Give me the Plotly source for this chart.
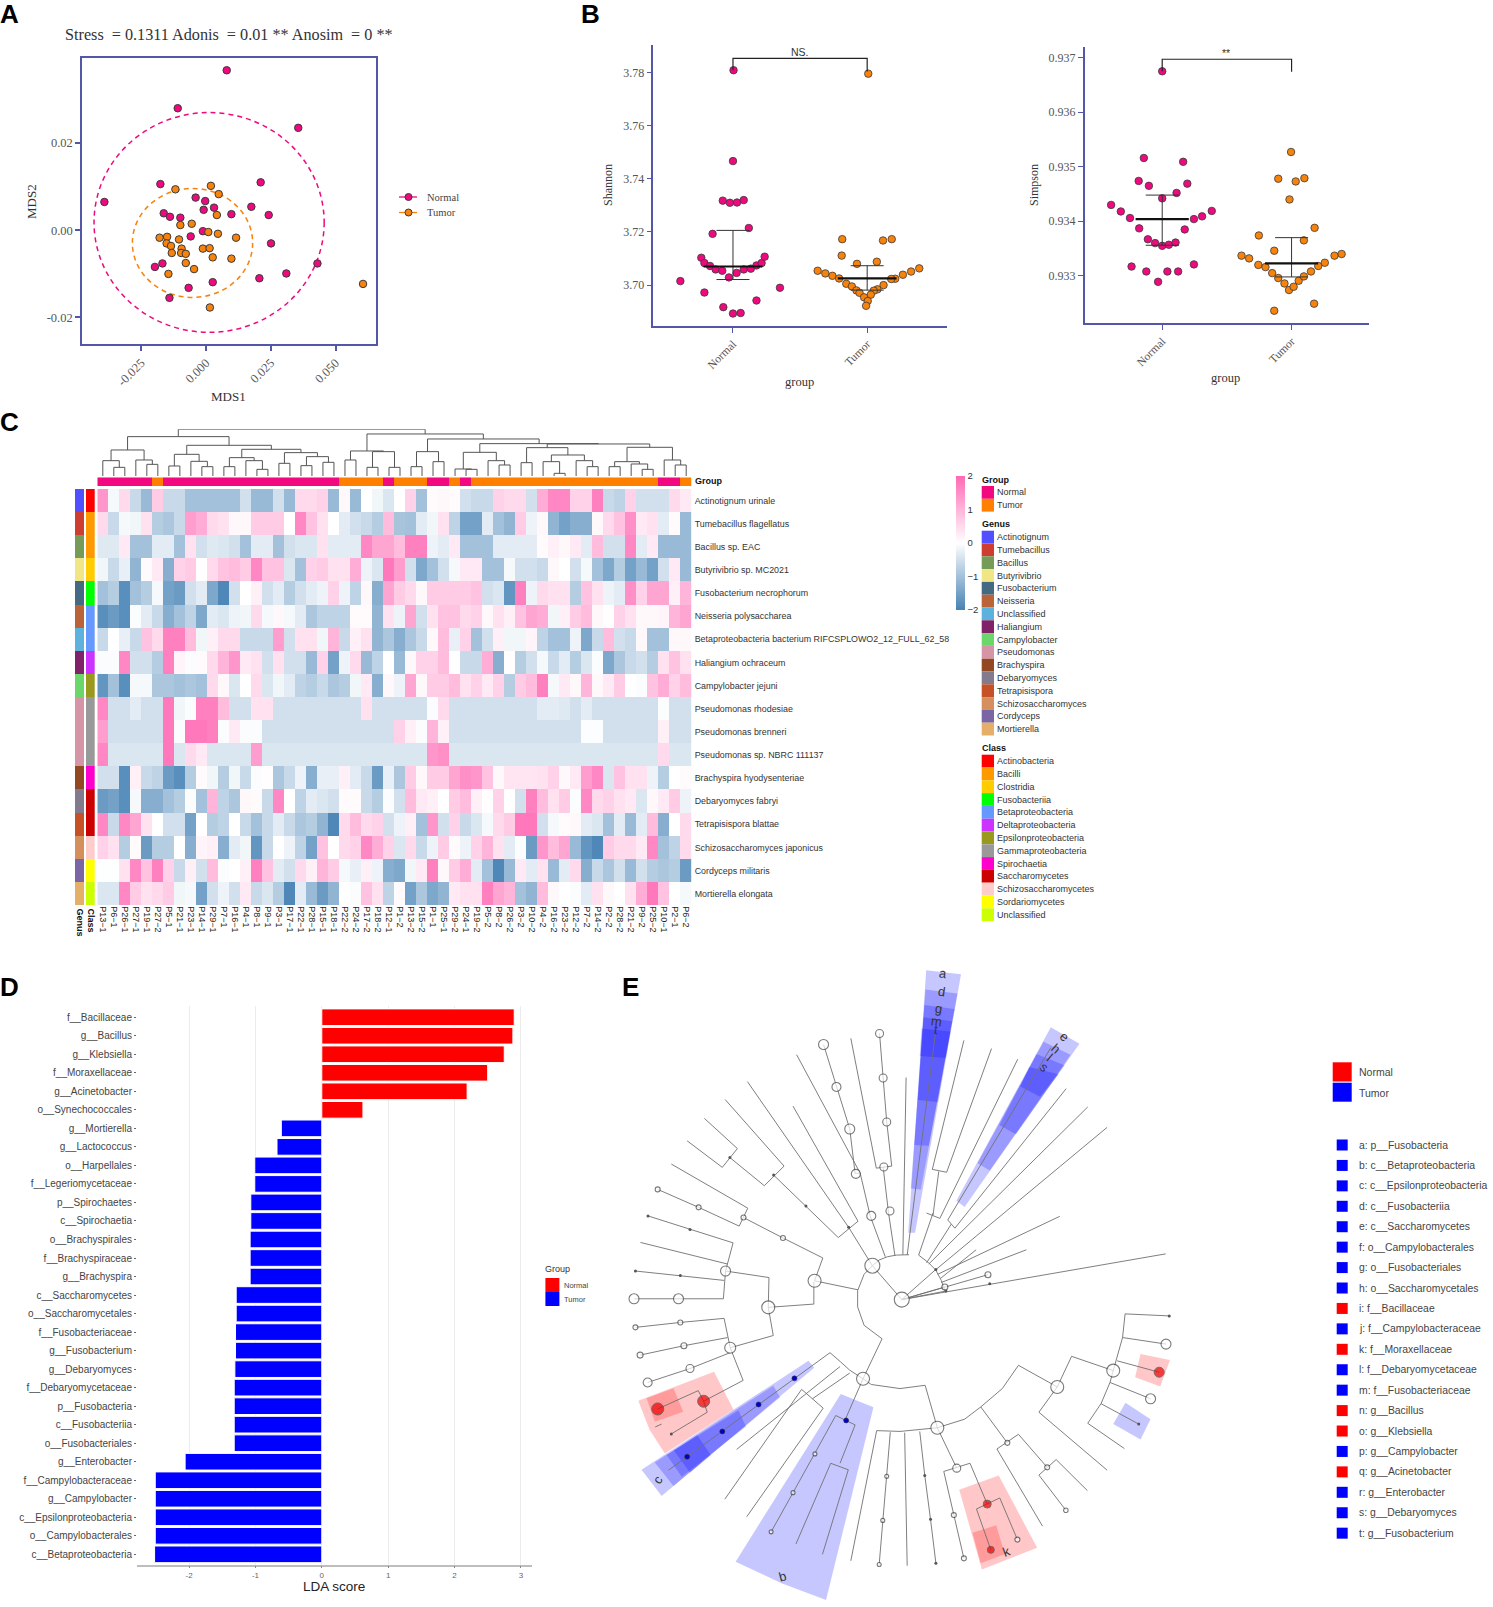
import plotly.graph_objects as go

W, H = 1493, 1607
SERIF = "Liberation Serif"
SANS = "Liberation Sans"
PINK = "#EE0A7E"
ORANGE = "#F7820C"
NAVY = "#5358A6"

# ---------- Panel A ----------
A_NORMAL_X = [0.0080,-0.0109,0.0356,0.0211,-0.0176,-0.0392,-0.0040,-0.0003,-0.0009,0.0031,0.0175,0.0098,0.0242,-0.0163,-0.0139,-0.0099,-0.0012,-0.0059,0.0251,0.0430,0.0310,0.0206,0.0026,-0.0067,-0.0141,-0.0197,-0.0168]
A_NORMAL_Y = [0.0367,0.0280,0.0235,0.0110,0.0106,0.0065,0.0075,0.0067,0.0047,0.0052,0.0054,0.0037,0.0035,0.0039,0.0031,0.0029,-0.0002,-0.0014,-0.0030,-0.0076,-0.0099,-0.0110,-0.0119,-0.0132,-0.0155,-0.0084,-0.0076]
A_TUMOR_X = [0.0019,-0.0118,0.0049,0.0042,-0.0055,-0.0099,0.0009,0.0046,0.0116,-0.0179,-0.0150,-0.0104,-0.0152,-0.0135,-0.0094,-0.0012,0.0014,-0.0132,-0.0096,-0.0078,0.0026,0.0098,-0.0078,-0.0046,-0.0145,0.0015,0.0606]
A_TUMOR_Y = [0.0102,0.0094,0.0083,0.0035,0.0015,0.0012,-0.0004,-0.0008,-0.0017,-0.0017,-0.0015,-0.0021,-0.0030,-0.0036,-0.0042,-0.0042,-0.0041,-0.0052,-0.0052,-0.0054,-0.0062,-0.0065,-0.0075,-0.0089,-0.0100,-0.0177,-0.0123]
A_ELLIPSE_NORMAL = dict(cx=0.0012, cy=0.0018, rx=0.0444, ry=0.0252)
A_ELLIPSE_TUMOR = dict(cx=-0.0052, cy=-0.0029, rx=0.0232, ry=0.0125)

# ---------- Panel B ----------
SH_N_X = [0.004,0,-0.076,-0.023,0.03,0.08,0.118,-0.152,-0.236,-0.213,-0.171,-0.129,-0.08,0.027,0.08,0.133,0.175,0.213,0.236,-0.03,-0.392,0.35,-0.213,0.175,-0.072,0,0.057]
SH_N_Y = [3.7809,3.7467,3.7318,3.7310,3.7311,3.7320,3.7215,3.7193,3.7103,3.7083,3.7072,3.7059,3.7054,3.7046,3.7059,3.7062,3.7074,3.7083,3.7107,3.7029,3.7015,3.6990,3.6972,3.6942,3.6917,3.6893,3.6895]
SH_T_X = [0.008,-0.186,0.118,0.183,-0.19,-0.076,0.072,-0.369,-0.312,-0.259,-0.209,0.388,0.327,0.266,0.209,0.179,-0.156,-0.114,0.122,0.076,0.049,-0.08,-0.057,0.027,-0.023,0.004,-0.008]
SH_T_Y = [3.7796,3.7173,3.7168,3.7173,3.7111,3.7080,3.7088,3.7054,3.7044,3.7035,3.7025,3.7063,3.7051,3.7039,3.7024,3.7023,3.7005,3.6995,3.7000,3.6984,3.6979,3.6980,3.6971,3.6964,3.6954,3.6940,3.6922]
SH_MEAN, SH_UP, SH_LOW = [3.7070,3.7025], [3.7206,3.7073], [3.7021,3.6981]
SH_BRACKET_X = [0,0,1,1]
SH_BRACKET_Y = [3.7809,3.7854,3.7854,3.7804]

SI_N_X = [0,-0.142,0.162,-0.182,-0.103,0.194,0.111,0,-0.395,-0.32,-0.249,0.383,0.308,0.245,-0.178,0.174,-0.111,-0.055,0,0.051,0.103,-0.237,0.245,-0.123,0.04,0.123,-0.032]
SI_N_Y = [0.93675,0.93516,0.93509,0.93474,0.93465,0.93469,0.93452,0.93442,0.93430,0.93418,0.93406,0.93419,0.93409,0.93404,0.93387,0.93385,0.93367,0.93360,0.93355,0.93357,0.93361,0.93317,0.93321,0.93308,0.93308,0.93308,0.93289]
SI_T_X = [-0.004,-0.103,0.099,0.032,-0.016,0.178,-0.253,0.095,-0.134,-0.387,-0.328,-0.257,-0.202,-0.15,-0.103,-0.055,-0.02,0.016,0.055,0.095,0.15,0.206,0.257,0.332,0.387,0.174,-0.134]
SI_T_Y = [0.93527,0.93478,0.93479,0.93473,0.93440,0.93388,0.93374,0.93365,0.93346,0.93337,0.93332,0.93320,0.93316,0.93305,0.93296,0.93286,0.93274,0.93280,0.93291,0.93299,0.93308,0.93318,0.93324,0.93337,0.93340,0.93249,0.93236]
SI_MEAN, SI_UP, SI_LOW = [0.93404,0.93323], [0.93448,0.93370], [0.93356,0.93298]
SI_BRACKET_X = [0,0,1,1]
SI_BRACKET_Y = [0.93675,0.93697,0.93697,0.93674]

# ---------- Panel C ----------
SAMPLES = ["P13−1","P6−1","P26−1","P27−1","P19−1","P27−2","P5−1","P21−1","P23−1","P14−1","P29−1","P7−1","P16−1","P4−1","P8−1","P9−1","P3−1","P17−1","P22−1","P28−1","P15−1","P18−1","P22−2","P24−2","P17−2","P18−2","P12−1","P1−2","P13−2","P15−2","P1−1","P25−1","P29−2","P24−1","P19−2","P5−2","P8−2","P26−2","P3−2","P10−2","P4−2","P16−2","P23−2","P12−2","P7−2","P14−2","P2−2","P28−2","P21−2","P9−2","P25−2","P10−1","P2−1","P6−2"]
SPECIES = ["Actinotignum urinale","Tumebacillus flagellatus","Bacillus sp. EAC","Butyrivibrio sp. MC2021","Fusobacterium necrophorum","Neisseria polysaccharea","Betaproteobacteria bacterium RIFCSPLOWO2_12_FULL_62_58","Haliangium ochraceum","Campylobacter jejuni","Pseudomonas rhodesiae","Pseudomonas brenneri","Pseudomonas sp. NBRC 111137","Brachyspira hyodysenteriae","Debaryomyces fabryi","Tetrapisispora blattae","Schizosaccharomyces japonicus","Cordyceps militaris","Mortierella elongata"]
R01 = [1.4,-.1,.5,-.6,-1.1,.7,-.6,-.6,-1,-1, -1,-1,-1,-.5,-1.1,-1.1,-.5,-1.1,.5,.5, .6,-1.1,.1,-1.1,0,-.15,-.4,0,.6,-1, .05,.1,.05,-.5,-.6,-.6,.6,.5,.5,-.5, 1.1,1.6,1.6,.6,.6,1.7,-.6,-.7,.6,-.5, -.5,-.5,.5,.3]
R02 = [.5,-.6,-.1,-.15,.4,-.8,-.9,-.6,1.3,1.1, .5,.4,.1,.1,.7,.7,.7,0,1.6,.8, .4,0,-.3,-.5,-.6,-.8,.9,-.95,-1,-.3, -.15,.4,-.7,-1.5,-1.5,-.3,-1,-1.2,.7,-.2, .1,-1.2,-1.5,-1.3,-1.3,.1,.5,.8,1.5,.3, .4,-.3,.05,-1.1]
R03 = [-.35,-.35,.3,-1,-1,-.3,-.3,-1,.4,-.5, -.35,-.4,-.5,-1,-.3,-.3,-1,-.5,-.4,-.4, .4,-.3,-.3,-.3,1.6,1.2,1.2,.9,1.7,1.7, -.2,-.3,.3,-1,-1,-1,-.3,-.3,-.3,-.3, .05,.2,.1,.3,-.3,.9,-.5,-.5,1.6,-.3, .3,-1.1,-1.1,-1.1]
R04 = [-.15,-.6,-.25,-1.2,.05,.3,-1.3,.6,.7,0, .5,.8,.9,.7,1.6,.8,.8,-.4,-1,.6, .7,.4,.4,1.1,-.2,-.4,1.8,1.3,-.5,-1.4, -1,-.5,-.1,.3,.3,-1,-1,-.1,-.5,-.5, -.6,.1,0,-.5,-.1,-1,-1.4,-.8,-1.5,-1.1, -1.5,-.5,.3,-1.1]
R05 = [-1,-.8,-1.8,-1,-.8,-.1,-1.5,-1.6,-.5,-.3, -1.4,-1.9,-.5,0,.2,-.5,-.3,-.8,-.5,-.3, -.2,.6,-.2,-.7,.1,-1.3,1.2,.7,.5,.1, .7,.7,.7,.7,.8,-.5,-.4,-1.7,1.7,-.2, .5,.4,.4,-.8,.8,.4,-.2,-.3,1.5,.6, 1.2,1.2,.2,1]
R06 = [-1.8,-1.6,-1.8,-.05,-.3,-.6,-1.3,-1,-.7,-1.4, -.3,-.4,-.2,-.15,.5,-.1,.1,-.1,-.3,-.9, -.7,-.7,-.7,.05,.05,-1.2,.4,-.2,1.2,-.5, .4,.8,.8,.5,.6,.1,.4,.2,.8,1.2, 1.1,-.15,.2,.7,.9,.1,.02,.6,.4,.1, .1,.15,1,1.2]
R07 = [-.6,0,-.25,-.6,.8,.5,1.7,1.7,.9,-.15, .2,.5,.5,-.6,-.6,-.6,1.3,-.5,.4,.4, -.15,1,-.6,.2,.4,-1.2,-.9,-1.3,-.9,-.6, .1,.9,-.25,.6,-1,-.5,.2,-.15,-.15,.15, -.7,-1,-1,-.2,-1.4,-.6,.9,-.5,-.6,.1, -1,-1,.1,.1]
R08 = [-.05,-.05,1.6,-.5,-.5,-.8,1.7,.15,-.05,.05, .5,1,1.4,.3,.4,-.5,.4,-.5,-.5,-1.1, .6,-1.5,-.2,.5,-1.1,-.7,0,-1.1,.1,.6, .6,.9,.02,-.6,-.6,1.1,-1.3,.03,-.8,-.5, -.1,-.6,-.3,-.8,-.4,-.05,-1.4,-.9,-.6,-.5, -.8,.4,.8,.4]
R09 = [-1.7,-1,-1.8,-.1,-.1,-.9,-.9,-1,-.9,-1, .5,.1,-.4,0,.5,-.4,-.15,-.3,-.7,-.8, -.6,-.9,-.8,-.15,.3,-1.3,.1,-.2,1.2,.1, .7,.7,.9,.4,.6,.3,.6,-.8,.7,.9, 1.7,-.1,.3,.1,1,.1,.3,.7,0,-.05, .8,1.1,.6,.9]
R10 = [1.6,-.5,-.5,-.3,-.5,-.5,1.8,-.15,-.05,1.7, 1.7,.9,-.5,-.5,.4,.4,-.5,-.5,-.5,-.5, -.5,-.5,-.5,-.5,.4,-.5,-.5,-.5,-.5,-.5, -.05,.5,-.5,-.5,-.5,-.5,-.5,-.5,-.5,-.5, -.3,-.3,-.35,-.5,-.3,-.5,-.5,-.5,-.5,-.5, -.5,-.05,-.5,-.5]
R11 = [1.3,-.5,-.5,-.5,-.5,-.5,1.8,-.05,1.8,1.8, 1.7,-.05,.3,-.05,-.05,-.5,-.5,-.5,-.5,-.5, -.5,-.5,-.5,-.5,-.5,-.5,-.5,.6,.2,-.05, 1,.2,-.5,-.5,-.5,-.5,-.5,-.5,-.5,-.5, -.5,-.5,-.5,-.5,-.03,-.03,-.5,-.5,-.5,-.5, -.5,.2,-.5,-.5]
R12 = [1.6,-.4,-.4,-.4,-.4,-.4,1.8,-.4,.5,.3, -.4,-.4,-.4,-.4,1.3,-.4,-.4,-.4,-.4,-.4, -.4,-.4,-.4,-.4,-.4,-.4,-.4,-.4,-.4,-.4, 1.4,1.5,-.4,-.4,-.4,-.4,-.4,-.4,-.4,-.4, -.4,-.4,-.4,-.4,-.4,-.4,-.4,-.4,-.4,-.4, -.4,.5,-.4,-.4]
R13 = [-.5,-.5,-1.8,.2,-.6,-.7,-1.6,-1.8,-.8,.05, -.15,-.8,-.15,-.6,-.05,.03,-.9,-.6,-.2,-1.3, -.25,-.25,.2,-.3,-.6,-1.6,-.25,-.9,.7,.1, .7,.7,1.2,1.5,1.4,.8,.1,.35,.35,.35, .4,.6,.1,.3,1.3,1.6,-.4,.8,.4,.4, -.2,-.8,0,.05]
R14 = [-1.6,-1.5,-1.8,-.1,-1.3,-1.3,-1,-.8,-.05,-1, 1,-.7,-.9,.1,.05,-.6,1.6,0,-.7,-.3, -.4,-.5,.05,.05,-.6,-.8,-.05,-.5,.9,.3, .2,0,.7,.9,.2,.03,.6,0,-.5,1.7, .9,.4,.7,-.05,1.6,.5,.6,.4,.3,-.4, .1,.3,.7,-.2]
R15 = [1.6,-.6,1.6,1.2,.4,0,-.5,-.5,-1.5,0, -.8,-.7,0,-.6,-1,-.6,-.3,-.6,-.9,-.8, -1.2,-1.9,.5,.9,.5,.6,-.5,-.2,.2,-1, 1.4,-.5,.6,-.6,-.4,-.1,.5,.7,1.8,1.8, -.5,-.1,.05,.1,-.3,-.4,-1,-.3,-1.1,-.3, .9,-1.3,0,.5]
R16 = [.6,.4,-.8,.05,-1.6,-.8,-.8,0,-1.3,.15, .2,-1.3,-.3,-.15,-1.7,-.6,0,-.2,-.7,-1.5, .8,0,.5,.6,1.6,1.1,.6,-.4,.5,-.6, -.2,.7,.05,-.2,.6,1,.4,-.3,-.05,-1.6, 1.4,.9,1.2,-1.1,-1.7,-1.9,.7,.5,.5,.3, 1.6,-1,-.7,.5]
R17 = [-.02,-.02,.4,1.6,.8,1.7,.6,-.6,.2,-.5, .9,-.05,0,.2,1.7,.8,-.3,-.5,.5,.2, 1,.7,-.1,-.25,.2,-.2,-1.3,-1.4,-.15,.3, 1.7,.1,.7,1.1,-.3,-1,-1.9,-1.1,.3,-.3, .4,-1.1,-.3,.5,-1.3,-.6,-.9,-.5,-1.1,-.5, -.8,-.9,-.8,-1.6]
R18 = [-.4,-.4,1.6,.7,.4,.5,.7,-.15,-.1,-1.5, -.5,-.2,-.5,.3,-.6,-.4,-.8,-1.9,-.3,-1.1, -1.6,-1.2,0,-.05,.8,.4,-.7,.05,-1.5,-.9, -1.4,-1.2,.3,.4,.4,1.7,1.2,1,-1,-1.2, .9,.1,0,-.05,-.3,.4,.1,0,.4,1.1, 1.8,.8,0,-.1]
HEAT = [R01,R02,R03,R04,R05,R06,R07,R08,R09,R10,R11,R12,R13,R14,R15,R16,R17,R18]

GROUP_NAMES = ["Normal","Tumor"]
GROUP_COLORS = ["#F2097F","#FF7F00"]
SAMPLE_GROUP = [0,0,0,0,0,1]+[0]*16+[1,1,1,1,0,1,1,1,0,0,1,0]+[1]*17+[0,0,1]
GENUS_NAMES = ["Actinotignum","Tumebacillus","Bacillus","Butyrivibrio","Fusobacterium","Neisseria","Unclassified","Haliangium","Campylobacter","Pseudomonas","Brachyspira","Debaryomyces","Tetrapisispora","Schizosaccharomyces","Cordyceps","Mortierella"]
GENUS_COLORS = ["#5050FF","#CE3D32","#749B58","#F0E685","#466983","#BA6338","#5DB1DD","#802268","#6BD76B","#D595A7","#924822","#837B8D","#C75127","#D58F5C","#7A65A5","#E4AF69"]
ROW_GENUS = [0,1,2,3,4,5,6,7,8,9,9,9,10,11,12,13,14,15]
CLASS_NAMES = ["Actinobacteria","Bacilli","Clostridia","Fusobacteriia","Betaproteobacteria","Deltaproteobacteria","Epsilonproteobacteria","Gammaproteobacteria","Spirochaetia","Saccharomycetes","Schizosaccharomycetes","Sordariomycetes","Unclassified"]
CLASS_COLORS = ["#FF0000","#FF9900","#FFCC00","#00FF00","#6699FF","#CC33FF","#99991E","#999999","#FF00CC","#CC0000","#FFCCCC","#FFFF00","#CCFF00"]
ROW_CLASS = [0,1,1,2,3,4,4,5,6,7,7,7,8,9,9,10,11,12]
DENDROGRAM = (140,
    (118,
        (78,(46,0,(26,1,2)),(48,3,(35,4,5))),
        (92,
            (65,(30,6,7),(44,8,(28,9,10))),
            (80,
                (55,(28,11,12),(46,13,(20,14,15))),
                (70,(38,16,17),(58,(31,18,19),(41,20,21)))))),
    (126,
        (75,(48,22,23),(73,(26,24,25),(26,26,27))),
        (111,
            (73,(28,28,29),(43,30,31)),
            (97,
                (71,(21,32,(20,33,34)),(46,35,(33,36,37))),
                (96,
                    (85,(40,38,39),(63,(43,40,(8,41,42)),(46,43,(28,44,45)))),
                    (86,(43,(28,46,47),(36,48,(20,49,50))),(48,51,(33,52,53))))))))

# ---------- Panel D ----------
D_TAXA = ["f__Bacillaceae","g__Bacillus","g__Klebsiella","f__Moraxellaceae","g__Acinetobacter","o__Synechococcales","g__Mortierella","g__Lactococcus","o__Harpellales","f__Legeriomycetaceae","p__Spirochaetes","c__Spirochaetia","o__Brachyspirales","f__Brachyspiraceae","g__Brachyspira","c__Saccharomycetes","o__Saccharomycetales","f__Fusobacteriaceae","g__Fusobacterium","g__Debaryomyces","f__Debaryomycetaceae","p__Fusobacteria","c__Fusobacteriia","o__Fusobacteriales","g__Enterobacter","f__Campylobacteraceae","g__Campylobacter","c__Epsilonproteobacteria","o__Campylobacterales","c__Betaproteobacteria"]
D_LDA = [2.90,2.88,2.75,2.50,2.19,0.62,-0.61,-0.675,-1.01,-1.01,-1.07,-1.07,-1.08,-1.08,-1.08,-1.29,-1.29,-1.30,-1.30,-1.31,-1.32,-1.32,-1.32,-1.32,-2.06,-2.51,-2.51,-2.51,-2.51,-2.52]

# ---------- Panel E ----------
E_LEGEND = [("a: p__Fusobacteria",1),("b: c__Betaproteobacteria",1),("c: c__Epsilonproteobacteria",1),("d: c__Fusobacteriia",1),("e: c__Saccharomycetes",1),("f: o__Campylobacterales",1),("g: o__Fusobacteriales",1),("h: o__Saccharomycetales",1),("i: f__Bacillaceae",0),("j: f__Campylobacteraceae",1),("k: f__Moraxellaceae",0),("l: f__Debaryomycetaceae",1),("m: f__Fusobacteriaceae",1),("n: g__Bacillus",0),("o: g__Klebsiella",0),("p: g__Campylobacter",1),("q: g__Acinetobacter",0),("r: g__Enterobacter",1),("s: g__Debaryomyces",1),("t: g__Fusobacterium",1)]
E_BLUE_WEDGES = [
    [(853,25),(950,35),(822,668),(803,668)],
    [(851,72),(940,82),(838,562),(810,560)],
    [(848,110),(932,120),(860,455),(820,453)],
    [(845,140),(925,150),(885,348),(830,343)],
    [(840,168),(921,175),(908,240),(835,235)],
    [(1200,165),(1280,205),(960,605),(937,590)],
    [(1180,200),(1255,232),(1030,516),(996,498)],
    [(1160,230),(1238,258),(1103,427),(1057,405)],
    [(1140,262),(1222,280),(1170,335),(1115,310)],
    [(60,1249),(116,1313),(541,999),(525,982)],
    [(97,1231),(149,1289),(446,1071),(427,1043)],
    [(130,1213),(172,1266),(351,1143),(330,1104)],
    [(150,1202),(195,1256),(253,1213),(215,1164)],
    [(615,1063),(706,1096),(574,1568),(450,1527),(322,1474)],
    [(1408,1085),(1478,1125),(1450,1175),(1374,1137)],
]
E_RED_WEDGES = [
    [(51,1080),(262,1009),(316,1101),(125,1209),(82,1150)],
    [(74,1074),(149,1049),(176,1107),(97,1131)],
    [(945,1298),(1055,1263),(1162,1440),(1008,1493)],
    [(982,1403),(1048,1385),(1072,1455),(1005,1478)],
    [(1450,965),(1532,980),(1505,1045),(1435,1022)],
]
E_BRANCHES = [
    [(703,749),(680,770),(662,810),(662,850),(680,895),(730,928),(677,1026)],
    [(785,832),(703,749)],
    [(703,749),(722,735),(745,727),(770,723),(805,722)],
    [(832,723),(860,742),(880,760),(895,785),(905,810)],
    [(785,832),(880,758)],[(785,832),(905,801)],[(785,832),(1025,771)],[(785,832),(1520,720)],[(785,832),(908,811)],
    [(832,723),(872,620)],[(854,620),(891,633)],[(872,625),(888,518)],[(870,513),(910,520)],[(870,513),(958,197)],[(910,520),(1035,217)],[(891,633),(1108,243)],
    [(854,742),(923,647)],[(913,637),(933,657)],[(913,637),(1200,215)],[(933,657),(1243,315)],
    [(860,745),(1303,360)],[(878,760),(1357,410)],[(885,770),(1225,628)],[(893,780),(992,710)],[(895,790),(1132,710)],
    [(800,723),(880,170)],[(788,722),(797,288)],
    [(703,749),(637,655)],[(608,680),(663,640)],[(663,640),(482,358)],[(608,680),(428,527)],[(637,655),(355,298)],
    [(402,553),(457,505)],[(402,553),(306,484)],[(457,505),(293,342)],[(285,508),(327,462)],[(285,508),(187,443)],[(327,462),(235,388)],
    [(739,727),(697,627),(669,522),(492,232)],[(567,207),(603,311),(640,414),(655,523),(669,522)],
    [(766,725),(748,619),(733,507)],[(714,510),(757,505)],[(714,510),(643,192)],[(757,505),(743,397),(733,289),(723,180)],
    [(663,808),(542,786)],[(540,788),(540,843),(413,851)],[(542,786),(565,730),(454,681),(344,631)],[(332,652),(356,608)],[(356,608),(143,500)],[(332,652),(219,606),(105,562)],
    [(413,851),(415,778),(294,762)],[(294,762),(315,693),(78,627)],[(300,745),(57,692)],[(43,762),(168,773),(290,785)],[(294,762),(288,830),(40,830)],
    [(413,851),(427,920),(307,950)],[(307,950),(290,878),(168,888),(43,900)],[(300,925),(178,945),(56,968)],[(307,950),(343,1030),(233,1081)],[(307,962),(195,1001),(77,1035)],
    [(233,1081),(218,1055),(105,1100)],[(233,1081),(243,1108),(143,1161)],[(98,1144),(116,1137)],
    [(677,1026),(640,1005),(615,985),(585,962),(187,1217),(135,1250)],
    [(613,996),(325,1199)],[(506,1052),(566,1098)],[(640,1012),(536,1075)],[(506,1052),(292,1321)],[(566,1098),(353,1364)],
    [(677,1026),(627,1127)],[(601,1116),(655,1139)],[(601,1116),(543,1210),(482,1305),(421,1401)],[(655,1139),(613,1233)],[(587,1233),(636,1249)],[(587,1233),(490,1431)],[(636,1249),(564,1456)],
    [(677,1026),(700,1040),(780,1050),(850,1042),(884,1146)],
    [(884,1146),(845,1150),(780,1155),(715,1153)],[(715,1153),(643,1472)],[(753,1157),(743,1265),(732,1373),(722,1481)],[(793,1158),(800,1484)],[(835,1155),(849,1263),(865,1370),(880,1478)],
    [(884,1146),(960,1125),(1005,1095),(1065,1050),(1110,993),(1218,1046)],
    [(884,1146),(938,1245)],[(902,1253),(975,1233)],[(902,1253),(930,1360),(958,1466)],[(975,1233),(1023,1333)],[(993,1345),(1058,1318)],[(993,1345),(1033,1445)],[(1058,1318),(1107,1420)],
    [(1005,1095),(1079,1183)],[(1050,1198),(1110,1162)],[(1050,1198),(1177,1387)],[(1110,1162),(1190,1243)],[(1167,1262),(1215,1224)],[(1167,1262),(1242,1348)],[(1215,1224),(1302,1300)],
    [(1218,1046),(1258,971),(1374,1006)],[(1218,1046),(1167,1108),(1357,1250)],
    [(1374,1006),(1400,925),(1407,867),(1530,872)],[(1400,925),(1521,941)],[(1385,982),(1502,1010)],[(1365,1035),(1478,1075)],[(1374,1006),(1365,1035),(1340,1087),(1445,1137)],[(1340,1087),(1303,1135),(1405,1197)],
]
E_WHITE_NODES = [(703,749,15),(785,832,15),(542,786,13),(413,851,13),(677,1026,13),(884,1146,13),(1218,1046,13),(1374,1006,13),(294,762,10),(307,950,11),(567,207,10),(603,311,9),(640,414,10),(657,524,9),(700,627,9),(723,180,8),(733,289,8),(743,397,8),(735,507,8),(752,615,8),(39,830,10),(163,830,10),(77,1035,9),(195,1001,8),(178,945,6),(56,968,6),(168,888,5),(43,900,5),(105,562,5),(219,606,5),(344,631,5),(454,681,5),(1025,771,6),(905,801,6),(1521,941,10),(1478,1075,10),(938,1245,8),(1079,1183,5),(1190,1243,5),(1242,1348,4.5),(1107,1420,5),(930,1360,5),(958,1466,5),(543,1210,4),(482,1305,4),(421,1401,4),(743,1265,4),(732,1373,4),(722,1481,4)]
E_DARK_NODES = [(306,484),(428,527),(518,603),(637,655),(195,660),(78,627),(43,762),(168,773),(880,758),(908,811),(1030,793),(1530,872),(849,1263),(865,1370),(880,1478),(143,1161),(1445,1137)]
E_RED_NODES = [(233,1081,12),(105,1100,12),(1023,1333,8),(1033,1445,7),(1502,1010,10)]
E_BLUE_NODES = [(486,1025),(386,1089),(285,1155),(187,1217),(630,1128)]
E_LETTERS = [("a",901,33,8),("d",895,78,8),("g",888,120,8),("m",883,150,8),("t",881,170,8),("e",1238,187,40),("h",1213,218,40),("l",1197,240,40),("s",1183,263,40),("c",105,1272,-55),("b",453,1510,-15),("k",1078,1450,-20)]

# ------------------------------------------------------------------
fig = go.Figure()
layout = {}
annotations, shapes = [], []
axis_count = 0


def px_x(v):
    return v / W


def px_y(v):
    return 1 - v / H


def new_axes(x0, x1, y0, y1, xopts, yopts):
    global axis_count
    axis_count += 1
    n = "" if axis_count == 1 else str(axis_count)
    xo = dict(domain=[px_x(x0), px_x(x1)], anchor="y" + n, zeroline=False, showgrid=False)
    yo = dict(domain=[px_y(y1), px_y(y0)], anchor="x" + n, zeroline=False, showgrid=False)
    xo.update(xopts)
    yo.update(yopts)
    layout["xaxis" + n] = xo
    layout["yaxis" + n] = yo
    return "x" + n, "y" + n


HIDDEN = dict(visible=False)


def text(s, x, y, size=10, color="#333", family=SANS, anchor="left", bold=False, angle=0, yanchor="middle"):
    annotations.append(dict(text=f"<b>{s}</b>" if bold else s, x=px_x(x), y=px_y(y), xref="paper", yref="paper",
                            xanchor=anchor, yanchor=yanchor, showarrow=False, textangle=angle,
                            font=dict(size=size, color=color, family=family), borderpad=0, borderwidth=0))


def swatch(x0, y0, x1, y1, color):
    shapes.append(dict(type="rect", xref="paper", yref="paper", x0=px_x(x0), x1=px_x(x1), y0=px_y(y0), y1=px_y(y1),
                       fillcolor=color, line=dict(width=0)))


# panel letters
for letter, lx, ly in [("A", 0, 14), ("B", 581, 14), ("C", 0, 422), ("D", 0, 987), ("E", 622, 987)]:
    text(letter, lx, ly, size=26, color="#000", bold=True)

# ---------- A ----------
ax, ay = new_axes(82, 376, 58, 344,
                  dict(range=[-0.04784, 0.0656], tickvals=[-0.025, 0, 0.025, 0.05], ticktext=["-0.025", "0.000", "0.025", "0.050"],
                       tickangle=-45, ticks="outside", ticklen=5, tickcolor=NAVY, tickwidth=1.5, showline=True, linecolor=NAVY, linewidth=1.5, mirror=True,
                       tickfont=dict(family=SERIF, size=12.5, color="#555")),
                  dict(range=[-0.02608, 0.03952], tickvals=[-0.02, 0, 0.02], ticktext=["-0.02", "0.00", "0.02"],
                       ticks="outside", ticklen=5, tickcolor=NAVY, tickwidth=1.5, showline=True, linecolor=NAVY, linewidth=1.5, mirror=True,
                       tickfont=dict(family=SERIF, size=12.5, color="#555")))
for e, c in [(A_ELLIPSE_NORMAL, PINK), (A_ELLIPSE_TUMOR, ORANGE)]:
    shapes.append(dict(type="circle", xref=ax, yref=ay, x0=e["cx"] - e["rx"], x1=e["cx"] + e["rx"], y0=e["cy"] - e["ry"], y1=e["cy"] + e["ry"],
                       line=dict(color=c, width=1.5, dash="5px,4px"), layer="below"))
for xs, ys, c in [(A_NORMAL_X, A_NORMAL_Y, PINK), (A_TUMOR_X, A_TUMOR_Y, ORANGE)]:
    fig.add_trace(go.Scatter(x=xs, y=ys, mode="markers", xaxis=ax, yaxis=ay, marker=dict(size=7.5, color=c, line=dict(color="#3a3a3a", width=1))))
text("Stress\u00a0 = 0.1311 Adonis\u00a0 = 0.01 ** Anosim\u00a0 = 0 **", 65, 35, size=16.2, color="#333", family=SERIF)
text("MDS1", 228, 397, size=13, family=SERIF, anchor="center")
text("MDS2", 32, 202, size=13, family=SERIF, anchor="center", angle=-90)
for label, y, c in [("Normal", 197, PINK), ("Tumor", 212.5, ORANGE)]:
    shapes.append(dict(type="line", xref="paper", yref="paper", x0=px_x(399), x1=px_x(417), y0=px_y(y), y1=px_y(y), line=dict(color=c, width=1.3)))
    shapes.append(dict(type="circle", xref="paper", yref="paper", x0=px_x(405), x1=px_x(412), y0=px_y(y - 3.5), y1=px_y(y + 3.5), fillcolor=c, line=dict(color="#3a3a3a", width=1)))
    text(label, 427, y, size=10.5, family=SERIF, color="#444")


# ---------- B ----------
def alpha_panel(box, xr, yr, tickv, tickt, nx, ny, tx, ty, mean, up, low, bx, by, capw, meanw, ylabel, lx, ly, star, starx, stary, gx, gy):
    x0, x1, y0, y1 = box
    xa, ya = new_axes(x0, x1, y0, y1,
                      dict(range=xr, tickvals=[0, 1], ticktext=GROUP_NAMES, tickangle=-45, ticks="outside", ticklen=5, tickcolor=NAVY, tickwidth=1.2,
                           showline=True, linecolor=NAVY, linewidth=1.5, tickfont=dict(family=SERIF, size=11.5, color="#555")),
                      dict(range=yr, tickvals=tickv, ticktext=tickt, ticks="outside", ticklen=5, tickcolor=NAVY, tickwidth=1.2,
                           showline=True, linecolor=NAVY, linewidth=1.5, tickfont=dict(family=SERIF, size=12, color="#555")))
    for xs, ys, c in [(nx, ny, PINK), (tx, ty, ORANGE)]:
        fig.add_trace(go.Scatter(x=[v + (0 if c == PINK else 1) for v in xs], y=ys, mode="markers", xaxis=xa, yaxis=ya,
                                 marker=dict(size=7.5, color=c, line=dict(color="#3a3a3a", width=0.8))))
    fig.add_trace(go.Scatter(x=[0, 1], y=mean, mode="markers", xaxis=xa, yaxis=ya,
                             error_y=dict(type="data", symmetric=False, array=[u - m for u, m in zip(up, mean)],
                                          arrayminus=[m - l for m, l in zip(mean, low)], color="#333", thickness=1, width=capw),
                             marker=dict(symbol="line-ew", size=meanw, color="#111", line=dict(color="#111", width=2.2))))
    fig.add_trace(go.Scatter(x=bx, y=by, mode="lines", xaxis=xa, yaxis=ya, line=dict(color="#222", width=1.2)))
    text(ylabel, lx, ly, size=12, family=SERIF, anchor="center", angle=-90)
    text(star, starx, stary, size=10.5, family=SANS, anchor="center")
    text("group", gx, gy, size=12.5, family=SERIF, anchor="center")


alpha_panel((653.4, 947.3, 45, 326), [-0.593, 1.597], [3.6846, 3.7904], [3.70, 3.72, 3.74, 3.76, 3.78], ["3.70", "3.72", "3.74", "3.76", "3.78"],
            SH_N_X, SH_N_Y, SH_T_X, SH_T_Y, SH_MEAN, SH_UP, SH_LOW, SH_BRACKET_X, SH_BRACKET_Y, 16.5, 42, "Shannon", 608, 185, "NS.", 800, 52, 799.5, 382)
alpha_panel((1084.6, 1368.8, 46.7, 323.3), [-0.600, 1.597], [0.93213, 0.93720], [0.933, 0.934, 0.935, 0.936, 0.937], ["0.933", "0.934", "0.935", "0.936", "0.937"],
            SI_N_X, SI_N_Y, SI_T_X, SI_T_Y, SI_MEAN, SI_UP, SI_LOW, SI_BRACKET_X, SI_BRACKET_Y, 16.5, 38, "Simpson", 1034, 185, "**", 1226, 53, 1225, 378)

# ---------- C ----------
hx, hy = new_axes(97.3, 691.7, 489, 905.3,
                  dict(type="category", tickmode="array", tickvals=SAMPLES, ticktext=SAMPLES, tickangle=90, ticks="", tickfont=dict(size=9, color="#222", family=SANS)),
                  dict(type="category", tickmode="array", tickvals=SPECIES, ticktext=SPECIES, autorange="reversed", side="right", ticks="", ticklabelstandoff=2,
                       tickfont=dict(size=8.9, color="#333", family=SANS)))
fig.add_trace(go.Heatmap(z=HEAT, x=SAMPLES, y=SPECIES, xaxis=hx, yaxis=hy, zmin=-2, zmax=2,
                         colorscale=[[0, "#4682B4"], [0.5, "#FFFFFF"], [1, "#FF69B4"]],
                         colorbar=dict(x=px_x(956), xanchor="left", y=px_y(476), yanchor="top", lenmode="pixels", len=134, thickness=9, thicknessmode="pixels",
                                       xpad=0, ypad=0, outlinewidth=0, tickmode="array", tickvals=[-2, -1, 0, 1, 2], ticks="", tickfont=dict(size=9.5, color="#333", family=SANS))))


def stepped(colors):
    n = len(colors)
    out = []
    for i, c in enumerate(colors):
        out += [[i / n, c], [(i + 1) / n, c]]
    return out


gx_, gy_ = new_axes(97.3, 691.7, 477.3, 486, dict(HIDDEN, type="category"), HIDDEN)
fig.add_trace(go.Heatmap(z=[SAMPLE_GROUP], x=SAMPLES, y=["Group"], xaxis=gx_, yaxis=gy_, zmin=-0.5, zmax=1.5, colorscale=stepped(GROUP_COLORS), showscale=False))
gnx, gny = new_axes(75, 84, 489, 905.3, HIDDEN, dict(HIDDEN, autorange="reversed", type="category"))
fig.add_trace(go.Heatmap(z=[[g] for g in ROW_GENUS], x=["Genus"], y=SPECIES, xaxis=gnx, yaxis=gny, zmin=-0.5, zmax=15.5, colorscale=stepped(GENUS_COLORS), showscale=False))
cnx, cny = new_axes(86, 94.7, 489, 905.3, HIDDEN, dict(HIDDEN, autorange="reversed", type="category"))
fig.add_trace(go.Heatmap(z=[[g] for g in ROW_CLASS], x=["Class"], y=SPECIES, xaxis=cnx, yaxis=cny, zmin=-0.5, zmax=12.5, colorscale=stepped(CLASS_COLORS), showscale=False))

dx, dy = new_axes(97.3, 691.7, 429.3, 476, dict(HIDDEN, range=[0, 54]), dict(HIDDEN, range=[0, 140]))
dend_x, dend_y = [], []


def walk(node):
    if isinstance(node, int):
        return node + 0.5, 0
    h, l, r = node
    xl, hl = walk(l)
    xr, hr = walk(r)
    dend_x.extend([xl, xl, xr, xr, None])
    dend_y.extend([hl, h, h, hr, None])
    return (xl + xr) / 2, h


walk(DENDROGRAM)
fig.add_trace(go.Scatter(x=dend_x, y=dend_y, mode="lines", xaxis=dx, yaxis=dy, line=dict(color="#555", width=1)))

text("Group", 695, 481.5, size=9, color="#111", bold=True)
text("Genus", 79.5, 908, size=9, color="#111", bold=True, anchor="center", angle=90, yanchor="top")
text("Class", 90.5, 908, size=9, color="#111", bold=True, anchor="center", angle=90, yanchor="top")


def legend_block(title, title_y, names, colors, start_y, step=12.8):
    text(title, 982.5, title_y, size=9, color="#111", bold=True)
    for i, (nm, c) in enumerate(zip(names, colors)):
        swatch(981.7, start_y + i * step, 994, start_y + (i + 1) * step, c)
        text(nm, 996.7, start_y + (i + 0.5) * step, size=9, color="#333")


legend_block("Group", 480, GROUP_NAMES, GROUP_COLORS, 486)
legend_block("Genus", 524.3, GENUS_NAMES, GENUS_COLORS, 530.7)
legend_block("Class", 748.3, CLASS_NAMES, CLASS_COLORS, 754.7)

# ---------- D ----------
bx, by = new_axes(137, 532, 1006.3, 1564.7,
                  dict(range=[-2.785, 3.168], tickvals=[-2, -1, 0, 1, 2, 3], ticktext=["-2", "-1", "0", "1", "2", "3"], showgrid=True, gridcolor="#ececec", gridwidth=1,
                       showline=True, linecolor="#bdbdbd", linewidth=1.5, ticks="outside", ticklen=2, tickcolor="#888", tickfont=dict(size=8, color="#666", family=SANS)),
                  dict(type="category", categoryorder="array", categoryarray=D_TAXA, range=[29.56, -0.59], tickmode="array", tickvals=D_TAXA, ticktext=D_TAXA,
                       ticks="outside", ticklen=2, tickcolor="#666", tickfont=dict(size=10, color="#444", family=SANS)))
fig.add_trace(go.Bar(x=D_LDA, y=D_TAXA, orientation="h", xaxis=bx, yaxis=by, width=0.9,
                     marker=dict(color=["#FF0000" if v > 0 else "#0000FF" for v in D_LDA], line=dict(color="#FFFFFF", width=1))))
text("LDA score", 334, 1586, size=13.5, color="#222", anchor="center")
text("Group", 545.4, 1269, size=9, color="#333")
swatch(545.4, 1278, 559.4, 1292, "#FF0000")
swatch(545.4, 1292, 559.4, 1306, "#0000FF")
text("Normal", 564, 1285, size=7.5, color="#444")
text("Tumor", 564, 1299, size=7.5, color="#444")

# ---------- E ----------
ex, ey = new_axes(620, 1180, 960, 1600, dict(HIDDEN, range=[0, 1560]), dict(HIDDEN, range=[1568, 0]))
for wedges, fillc in [(E_BLUE_WEDGES, "rgba(0,0,255,0.22)"), (E_RED_WEDGES, "rgba(255,0,0,0.22)")]:
    for w in wedges:
        fig.add_trace(go.Scatter(x=[p[0] for p in w], y=[p[1] for p in w], mode="lines", fill="toself", fillcolor=fillc, line=dict(width=0), xaxis=ex, yaxis=ey))
bxs, bys = [], []
for poly in E_BRANCHES:
    bxs += [p[0] for p in poly] + [None]
    bys += [p[1] for p in poly] + [None]
fig.add_trace(go.Scatter(x=bxs, y=bys, mode="lines", line=dict(color="#707070", width=0.9), xaxis=ex, yaxis=ey))
# nodes live on a second pair of axes over the same box, so they cover the branch lines
nx_, ny_ = new_axes(620, 1180, 960, 1600, dict(HIDDEN, range=[0, 1560]), dict(HIDDEN, range=[1568, 0]))
fig.add_trace(go.Scatter(x=[n[0] for n in E_WHITE_NODES], y=[n[1] for n in E_WHITE_NODES], mode="markers", xaxis=nx_, yaxis=ny_,
                         marker=dict(size=[n[2] for n in E_WHITE_NODES], color="#FFFFFF", line=dict(color="#444", width=1.1))))
fig.add_trace(go.Scatter(x=[n[0] for n in E_DARK_NODES], y=[n[1] for n in E_DARK_NODES], mode="markers", xaxis=nx_, yaxis=ny_,
                         marker=dict(size=3, color="#555", line=dict(width=0))))
fig.add_trace(go.Scatter(x=[n[0] for n in E_RED_NODES], y=[n[1] for n in E_RED_NODES], mode="markers", xaxis=nx_, yaxis=ny_,
                         marker=dict(size=[n[2] for n in E_RED_NODES], color="#F00000", line=dict(color="#444", width=1))))
fig.add_trace(go.Scatter(x=[n[0] for n in E_BLUE_NODES], y=[n[1] for n in E_BLUE_NODES], mode="markers", xaxis=nx_, yaxis=ny_,
                         marker=dict(size=5, color="#0000C8", line=dict(color="#333", width=0.6))))
for s, lx, ly, ang in E_LETTERS:
    annotations.append(dict(text=s, x=lx, y=ly, xref=nx_, yref=ny_, showarrow=False, textangle=ang, font=dict(size=13, color="#333", family=SANS)))

swatch(1332.7, 1062.3, 1351.7, 1081.5, "#FF0000")
swatch(1332.7, 1082.7, 1351.7, 1101.7, "#0000FF")
text("Normal", 1359, 1072.3, size=10.5, color="#444")
text("Tumor", 1359, 1092.7, size=10.5, color="#444")
for i, (label, tumor) in enumerate(E_LEGEND):
    cy = 1145 + 20.43 * i
    swatch(1336.7, cy - 5.5, 1347.7, cy + 5.5, "#0000FF" if tumor else "#FF0000")
    text(label, 1359, cy, size=10.4, color="#444")

fig.update_layout(width=W, height=H, margin=dict(l=0, r=0, t=0, b=0), paper_bgcolor="white", plot_bgcolor="rgba(0,0,0,0)",
                  showlegend=False, hovermode=False, annotations=annotations, shapes=shapes, **layout)
fig.write_html("out.html", config=dict(displayModeBar=False), post_script="document.body.style.margin='0';")
